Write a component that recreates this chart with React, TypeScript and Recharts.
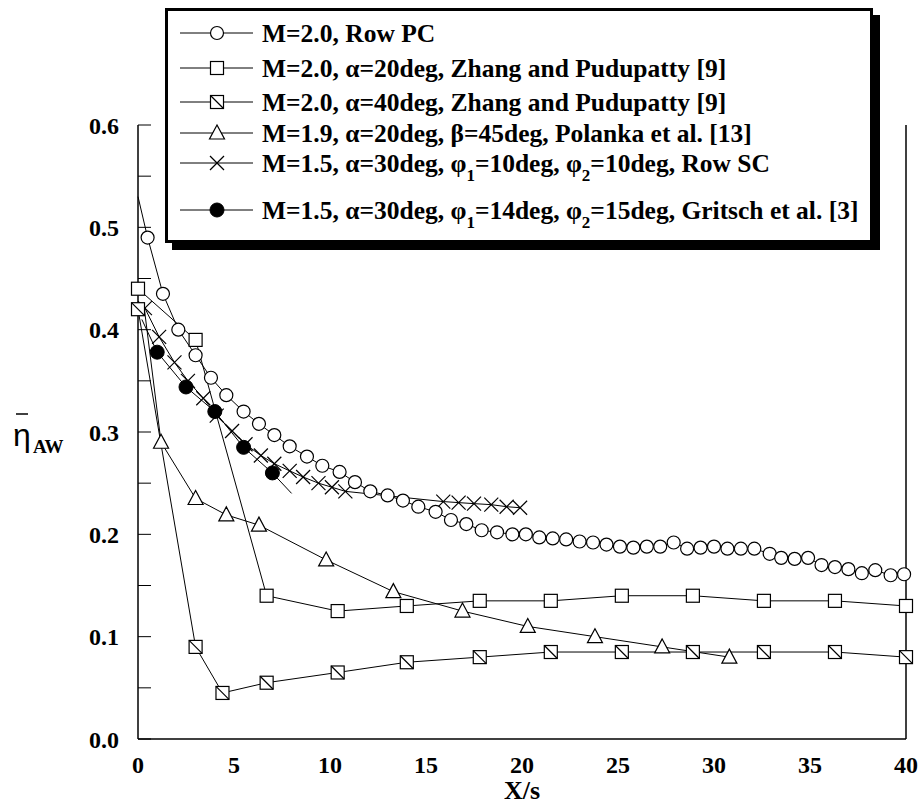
import React from "react";
import { Legend, Line, LineChart, XAxis, YAxis } from "recharts";

// ---- data ----
const rowPcX = [
	0.5, 1.3, 2.1, 3.0, 3.8, 4.6, 5.5, 6.3, 7.1, 7.9, 8.8, 9.6, 10.5, 11.3, 12.1,
	13.0, 13.8, 14.6, 15.5, 16.3, 17.1, 17.9, 18.7, 19.5, 20.2, 20.9, 21.6, 22.3,
	23.0, 23.7, 24.4, 25.1, 25.8, 26.5, 27.2, 27.9, 28.6, 29.3, 30.0, 30.7, 31.4,
	32.1, 32.9, 33.5, 34.2, 34.9, 35.6, 36.3, 37.0, 37.7, 38.4, 39.2, 39.9,
];
const rowPcY = [
	0.49, 0.435, 0.4, 0.375, 0.353, 0.336, 0.32, 0.308, 0.297, 0.286, 0.276,
	0.267, 0.261, 0.251, 0.242, 0.238, 0.233, 0.227, 0.222, 0.214, 0.21, 0.204,
	0.202, 0.2, 0.2, 0.197, 0.196, 0.195, 0.193, 0.192, 0.19, 0.188, 0.187, 0.188,
	0.188, 0.192, 0.186, 0.187, 0.188, 0.186, 0.186, 0.186, 0.181, 0.177, 0.176,
	0.177, 0.17, 0.168, 0.166, 0.162, 0.165, 0.16, 0.161,
];
const rowPcLead = { x: 0, y: 0.53 }; // line runs up to the axis

const zhang20X = [0, 3.0, 6.7, 10.4, 14.0, 17.8, 21.5, 25.2, 28.9, 32.6, 36.3, 40];
const zhang20Y = [0.44, 0.39, 0.14, 0.125, 0.13, 0.135, 0.135, 0.14, 0.14, 0.135, 0.135, 0.13];

const zhang40X = [0, 3.0, 4.4, 6.7, 10.4, 14.0, 17.8, 21.5, 25.2, 28.9, 32.6, 36.3, 40];
const zhang40Y = [0.42, 0.09, 0.045, 0.055, 0.065, 0.075, 0.08, 0.085, 0.085, 0.085, 0.085, 0.085, 0.08];

const polankaX = [1.2, 3.0, 4.6, 6.3, 9.8, 13.3, 16.9, 20.3, 23.8, 27.3, 30.8];
const polankaY = [0.29, 0.235, 0.219, 0.209, 0.175, 0.144, 0.125, 0.11, 0.1, 0.09, 0.08];
const polankaLead = { x: 0.3, y: 0.425 };

const rowScX = [
	0.36, 1.1, 1.9, 2.6, 3.4, 4.1, 4.9, 5.6, 6.4, 7.1, 7.9, 8.6, 9.4, 10.1, 10.8,
	15.9, 16.7, 17.5, 18.4, 19.2, 19.9,
];
const rowScY = [
	0.421, 0.393, 0.368, 0.35, 0.333, 0.316, 0.301, 0.288, 0.277, 0.269, 0.262,
	0.256, 0.25, 0.246, 0.242, 0.232, 0.231, 0.23, 0.229, 0.227, 0.226,
];

const gritschX = [1.0, 2.5, 4.0, 5.5, 7.0];
const gritschY = [0.378, 0.344, 0.32, 0.285, 0.26];
const gritschLead = { x: 0.2, y: 0.41 };
const gritschTail = { x: 8.0, y: 0.24 };

const xTicks = [0, 5, 10, 15, 20, 25, 30, 35, 40];
const yTicks = [0, 0.05, 0.1, 0.15, 0.2, 0.25, 0.3, 0.35, 0.4, 0.45, 0.5, 0.55, 0.6];

type Seg = string | { sub: string };
const legendRows: { kind: string; text: Seg[] }[] = [
	{ kind: "circle", text: ["M=2.0, Row PC"] },
	{ kind: "square", text: ["M=2.0, α=20deg, Zhang and Pudupatty [9]"] },
	{ kind: "xsquare", text: ["M=2.0, α=40deg, Zhang and Pudupatty [9]"] },
	{ kind: "triangle", text: ["M=1.9, α=20deg, β=45deg, Polanka et al. [13]"] },
	{ kind: "cross", text: ["M=1.5, α=30deg, φ", { sub: "1" }, "=10deg, φ", { sub: "2" }, "=10deg, Row SC"] },
	{ kind: "filled", text: ["M=1.5, α=30deg, φ", { sub: "1" }, "=14deg, φ", { sub: "2" }, "=15deg, Gritsch et al. [3]"] },
];

const pts = (xs: number[], ys: number[]) => xs.map((x, i) => ({ x, y: ys[i] }));

const FONT = '"Liberation Serif", "Times New Roman", serif';

function Marker({ kind, cx, cy }: { kind: string; cx: number; cy: number }) {
	const s = { stroke: "#000", strokeWidth: 1.2, fill: "#fff" };
	switch (kind) {
		case "circle":
			return <circle cx={cx} cy={cy} r={6.5} {...s} />;
		case "square":
			return <rect x={cx - 6.5} y={cy - 6.5} width={13} height={13} {...s} />;
		case "xsquare":
			return (
				<g>
					<rect x={cx - 6.5} y={cy - 6.5} width={13} height={13} {...s} />
					<line x1={cx - 6.5} y1={cy - 6.5} x2={cx + 6.5} y2={cy + 6.5} stroke="#000" strokeWidth={1.2} />
				</g>
			);
		case "triangle":
			return <polygon points={`${cx},${cy - 8} ${cx - 7.5},${cy + 6} ${cx + 7.5},${cy + 6}`} {...s} />;
		case "cross":
			return (
				<g stroke="#000" strokeWidth={1.2}>
					<line x1={cx - 7} y1={cy - 7} x2={cx + 7} y2={cy + 7} />
					<line x1={cx - 7} y1={cy + 7} x2={cx + 7} y2={cy - 7} />
				</g>
			);
		case "filled":
			return <circle cx={cx} cy={cy} r={7} fill="#000" stroke="#000" />;
		default:
			return null;
	}
}

// dot renderer that leaves the given indexes without a marker
const dots = (kind: string, skip: number[] = []) => (p: any) => {
	const key = `${kind}-${p.index}`;
	if (skip.includes(p.index) || p.cx == null) return <g key={key} />;
	return (
		<g key={key}>
			<Marker kind={kind} cx={p.cx} cy={p.cy} />
		</g>
	);
};

const LeftTick = (p: any) => {
	const v = p.payload.value;
	const major = Math.round(v * 100) % 10 === 0;
	return (
		<g>
			<line x1={p.x} x2={p.x + 13} y1={p.y} y2={p.y} stroke="#000" />
			{major && (
				<text
					x={p.x - 19}
					y={p.y}
					dy="0.36em"
					textAnchor="end"
					fontFamily={FONT}
					fontWeight="bold"
					fontSize={24}
					fill="#000"
				>
					{v.toFixed(1)}
				</text>
			)}
		</g>
	);
};

const RightTick = (p: any) => (
	<line x1={p.x} x2={p.x - 13} y1={p.y} y2={p.y} stroke="#000" />
);

const YLabel = () => (
	<g fill="#000">
		<text x={13} y={446} fontFamily='"Liberation Sans", Arial, sans-serif' fontSize={32}>
			η
		</text>
		<line x1={16} x2={28} y1={414} y2={414} stroke="#000" strokeWidth={1.5} />
		<text x={33} y={453} fontFamily={FONT} fontWeight="bold" fontSize={19}>
			AW
		</text>
	</g>
);

const XLabel = (p: any) => {
	const vb = p.viewBox;
	return (
		<text
			x={vb.x + vb.width / 2}
			y={vb.y + vb.height - 9}
			textAnchor="middle"
			fontFamily={FONT}
			fontWeight="bold"
			fontSize={26}
			fill="#000"
		>
			X/s
		</text>
	);
};

function LegendBox() {
	const rowY = [25, 60, 94, 125, 155, 202];
	return (
		<svg width={720} height={250} style={{ display: "block" }}>
			<rect x={7} y={7} width={708} height={235} fill="#000" />
			<rect x={1.5} y={1.5} width={705} height={232} fill="#fff" stroke="#000" strokeWidth={3} />
			{legendRows.map((r, i) => {
				const y = rowY[i];
				return (
					<g key={r.kind}>
						<line x1={15} x2={88} y1={y} y2={y} stroke="#000" strokeWidth={1} />
						<Marker kind={r.kind} cx={52} cy={y} />
						<text x={97} y={y + 9} fontFamily={FONT} fontWeight="bold" fontSize={25.5} fill="#000">
							{r.text.map((seg, j) =>
								typeof seg === "string" ? (
									<tspan key={j} dy={j > 0 && typeof r.text[j - 1] !== "string" ? -9 : 0}>
										{seg}
									</tspan>
								) : (
									<tspan key={j} dy={9} fontSize={17}>
										{seg.sub}
									</tspan>
								),
							)}
						</text>
					</g>
				);
			})}
		</svg>
	);
}

export default function App() {
	const rowPc = [rowPcLead, ...pts(rowPcX, rowPcY)];
	const zhang20 = pts(zhang20X, zhang20Y);
	const zhang40 = pts(zhang40X, zhang40Y);
	const polanka = [polankaLead, ...pts(polankaX, polankaY)];
	const rowSc = pts(rowScX, rowScY);
	const gritsch = [gritschLead, ...pts(gritschX, gritschY), gritschTail];

	return (
		<div style={{ position: "absolute", left: 0, top: 0, background: "#fff" }}>
			<LineChart width={920} height={808} margin={{ top: 125, right: 0, bottom: 0, left: 0 }}>
				<XAxis
					dataKey="x"
					type="number"
					domain={[0, 40]}
					ticks={xTicks}
					interval={0}
					height={69}
					tickLine={false}
					tickSize={0}
					tickMargin={17}
					axisLine={{ stroke: "#000", strokeWidth: 1.5 }}
					tick={{ fill: "#000", fontFamily: FONT, fontWeight: "bold", fontSize: 24 }}
					label={<XLabel />}
				/>
				<XAxis
					xAxisId="top"
					orientation="top"
					type="number"
					domain={[0, 40]}
					height={0}
					tick={false}
					tickLine={false}
					axisLine={{ stroke: "#000", strokeWidth: 1.5 }}
				/>
				<YAxis
					type="number"
					domain={[0, 0.6]}
					ticks={yTicks}
					interval={0}
					width={138}
					tickSize={0}
					tickMargin={0}
					tickLine={false}
					axisLine={{ stroke: "#000", strokeWidth: 1.5 }}
					tick={<LeftTick />}
					label={<YLabel />}
				/>
				<YAxis
					yAxisId="right"
					orientation="right"
					type="number"
					domain={[0, 0.6]}
					ticks={yTicks}
					interval={0}
					width={14}
					tickSize={0}
					tickMargin={0}
					tickLine={false}
					axisLine={{ stroke: "#000", strokeWidth: 1.5 }}
					tick={<RightTick />}
				/>
				<Legend
					layout="horizontal"
					verticalAlign="middle"
					align="center"
					content={() => <LegendBox />}
					wrapperStyle={{ position: "absolute", left: 165, top: 8, width: 720, height: 250 }}
				/>
				<Line data={rowSc} dataKey="y" stroke="#000" strokeWidth={1} dot={dots("cross")} isAnimationActive={false} />
				<Line data={gritsch} dataKey="y" stroke="#000" strokeWidth={1} dot={dots("filled", [0, 6])} isAnimationActive={false} />
				<Line data={polanka} dataKey="y" stroke="#000" strokeWidth={1} dot={dots("triangle", [0])} isAnimationActive={false} />
				<Line data={zhang40} dataKey="y" stroke="#000" strokeWidth={1} dot={dots("xsquare")} isAnimationActive={false} />
				<Line data={zhang20} dataKey="y" stroke="#000" strokeWidth={1} dot={dots("square")} isAnimationActive={false} />
				<Line data={rowPc} dataKey="y" stroke="#000" strokeWidth={1} dot={dots("circle", [0])} isAnimationActive={false} />
			</LineChart>
		</div>
	);
}
